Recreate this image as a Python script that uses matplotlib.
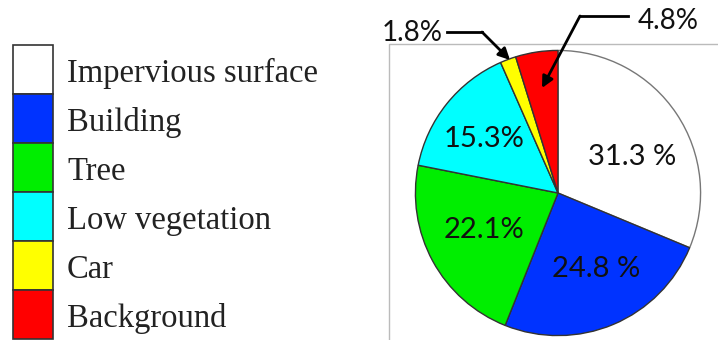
import matplotlib.pyplot as plt
from matplotlib.patches import Rectangle

# ---------------------------------------------------------------------------
# Data
# ---------------------------------------------------------------------------

CLASSES = ["Impervious surface", "Building", "Tree", "Low vegetation", "Car", "Background"]
SHARES = [31.3, 24.8, 22.1, 15.3, 1.8, 4.8]
SLICE_LABELS = ["31.3 %", "24.8 %", "22.1%", "15.3%", "", ""]
COLORS = ["#ffffff", "#0033ff", "#00ee00", "#00ffff", "#ffff00", "#ff0000"]

W, H = 718, 340

fig = plt.figure(figsize=(W / 100, H / 100), dpi=100)

# Pie
cx, cy, r = 558, 193, 144
pax = fig.add_axes([(cx - r) / W, (H - cy - r) / H, 2 * r / W, 2 * r / H])
wedges, texts = pax.pie(
    SHARES, colors=COLORS, startangle=90, counterclock=False,
    labels=SLICE_LABELS, labeldistance=0.55,
    wedgeprops=dict(edgecolor="#333333", linewidth=1),
    textprops=dict(family="Lato", fontsize=21, color="#111111"),
)
pax.set_xlim(-1.01, 1.01)
pax.set_ylim(-1.01, 1.01)
pax.set_aspect("equal")
pax.patch.set_visible(False)
wedges[0].set_edgecolor("#777777")

# Nudge the inner labels to where they sit in the reference
label_pos = [(0.52, 0.25), (0.27, -0.53), (-0.52, -0.26), (-0.52, 0.38)]
for t, (x, y) in zip(texts, label_pos):
    t.set_position((x, y))
    t.set_ha("center")
    t.set_va("center")

# Overlay axes in pixel coordinates for legend, frame lines and callouts
ov = fig.add_axes([0, 0, 1, 1])
ov.set_xlim(0, W)
ov.set_ylim(H, 0)
ov.axis("off")
ov.patch.set_visible(False)
ov.set_zorder(5)

# Legend column of colour boxes
box_top, box_h = 45, 49
for i, (name, color) in enumerate(zip(CLASSES, COLORS)):
    y0 = box_top + i * box_h
    ov.add_patch(Rectangle((13, y0), 40, box_h, facecolor=color,
                           edgecolor="#333333", linewidth=1.2))
    ov.text(67, y0 + box_h / 2 + 4, name, family="Liberation Serif",
            fontsize=23.5, color="#222222", va="center", ha="left")

# Thin grey frame of the chart area
ov.plot([389, 389, W], [H, 44, 44], color="#bbbbbb", linewidth=1, zorder=0)

# Callouts for the two small slices
ov.text(412, 33, "1.8%", family="Lato", fontsize=20, color="#111111",
        ha="center", va="center")
ov.plot([447, 482], [32, 32], color="black", linewidth=2)
ov.annotate("", xy=(510, 60), xytext=(482, 32),
            arrowprops=dict(arrowstyle="-|>", color="black", lw=2,
                            mutation_scale=17, shrinkA=0, shrinkB=0))

ov.text(668, 21, "4.8%", family="Lato", fontsize=20, color="#111111",
        ha="center", va="center")
ov.plot([628, 580], [16, 16], color="black", linewidth=2)
ov.annotate("", xy=(542, 88), xytext=(580, 16),
            arrowprops=dict(arrowstyle="-|>", color="black", lw=2,
                            mutation_scale=17, shrinkA=0, shrinkB=0))

fig.savefig("out.png", dpi=100, facecolor="white")
